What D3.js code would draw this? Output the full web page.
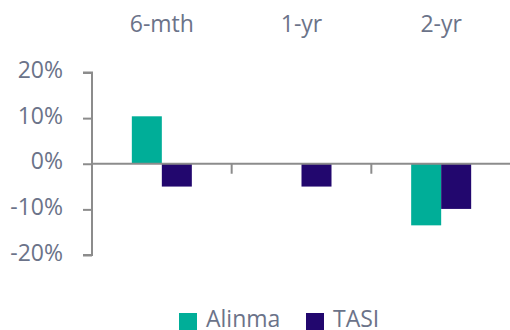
<!DOCTYPE html>
<html><head><meta charset="utf-8">
<script src="https://cdn.jsdelivr.net/npm/d3@7"></script>
<style>body{margin:0;background:#fff}svg{display:block}</style>
</head><body><svg id="c" width="510" height="330"></svg>
<script>
const categories = ["6-mth", "1-yr", "2-yr"];
const seriesNames = ["Alinma", "TASI"];
const alinma = [10.4, null, -13.5];
const tasi = [-5.0, -5.0, -9.9];
const yTicks = [-20, -10, 0, 10, 20];

const colors = {Alinma: "#00AE98", TASI: "#22076E"};
const textColor = "#6B7389";
const axisColor = "#8C8C8C";
const font = "'Open Sans', sans-serif";

const svg = d3.select("#c");
const x = d3.scaleBand().domain(categories).range([92, 511]);
const y = d3.scaleLinear().domain([-20, 20]).range([255, 72.5]);
const x1 = d3.scaleBand().domain(seriesNames).range([0, 60]);
const data = {Alinma: alinma, TASI: tasi};

// y axis
const ya = svg.append("g").attr("transform", "translate(92,0)")
  .call(d3.axisLeft(y).tickValues(yTicks).tickSize(9).tickPadding(20).tickFormat(d => d + "%"));
ya.select(".domain").attr("stroke", axisColor).attr("stroke-width", 2).attr("d", `M-9,${y(20)}H0V${y(-20)}H-9`);
ya.selectAll(".tick line").attr("stroke", axisColor).attr("stroke-width", 2);
ya.selectAll(".tick text").attr("fill", textColor).attr("dy", "0.22em")
  .style("font-family", font).style("font-size", "23px");

// bars
categories.forEach((c, i) => {
  seriesNames.forEach(s => {
    const v = data[s][i];
    if (v === null) return;
    svg.append("rect")
      .attr("x", x(c) + x.bandwidth() / 2 - 30 + x1(s))
      .attr("y", y(Math.max(0, v)))
      .attr("width", x1.bandwidth())
      .attr("height", Math.abs(y(v) - y(0)))
      .attr("fill", colors[s]);
  });
});

// x axis at zero
const xa = svg.append("g").attr("transform", `translate(0,${y(0)})`)
  .call(d3.axisBottom(x).tickSize(0).tickFormat(""));
xa.select(".domain").attr("stroke", axisColor).attr("stroke-width", 2).attr("d", "M92,0H511");
xa.selectAll(".tick").remove();
categories.slice(1).forEach(c => {
  xa.append("line").attr("x1", x(c)).attr("x2", x(c)).attr("y1", 0).attr("y2", 10)
    .attr("stroke", axisColor).attr("stroke-width", 2);
});

// category labels at top
svg.selectAll(".cat").data(categories).enter().append("text")
  .attr("x", d => x(d) + x.bandwidth() / 2).attr("y", 32)
  .attr("text-anchor", "middle").attr("fill", textColor)
  .style("font-family", font).style("font-size", "23px").text(d => d);

// legend
const leg = [{n: "Alinma", x: 179}, {n: "TASI", x: 306}];
leg.forEach(l => {
  svg.append("rect").attr("x", l.x).attr("y", 313).attr("width", 18).attr("height", 17).attr("fill", colors[l.n]);
  svg.append("text").attr("x", l.x + 27).attr("y", 326.5).attr("fill", textColor)
    .style("font-family", font).style("font-size", "23px").text(l.n);
});
</script></body></html>
